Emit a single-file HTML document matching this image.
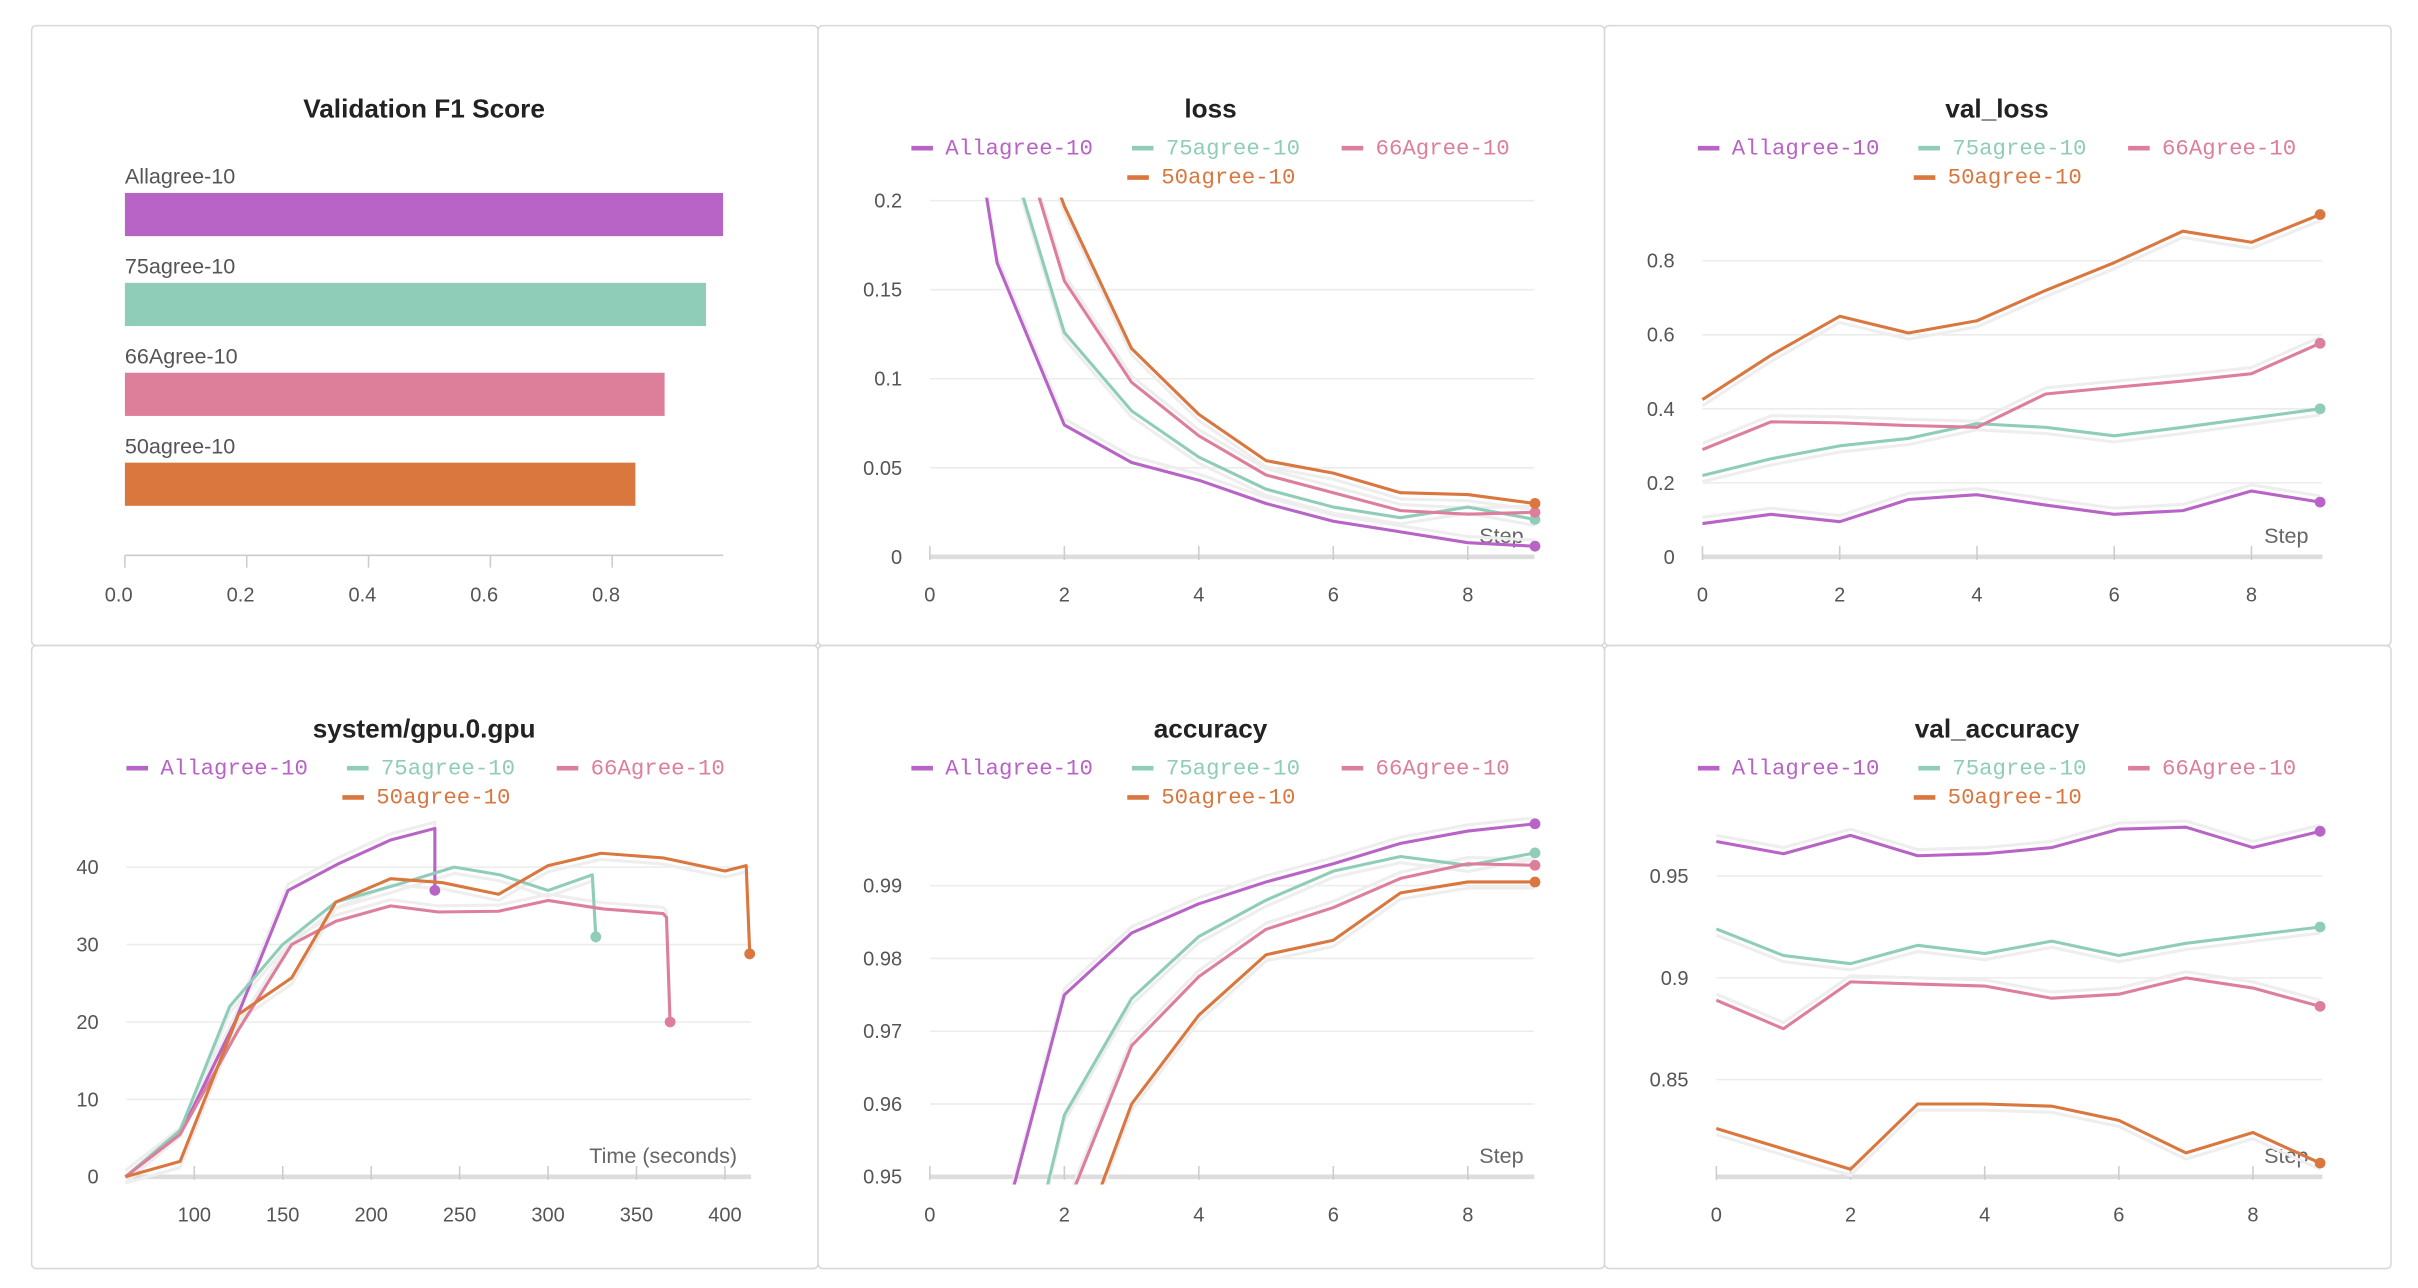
<!DOCTYPE html>
<html><head><meta charset="utf-8"><style>
html,body{margin:0;padding:0;background:#fff;width:2418px;height:1288px;overflow:hidden;}
svg{display:block;}
text{font-family:"Liberation Sans",sans-serif;}
.mono{font-family:"Liberation Mono",monospace;}
</style></head><body>
<svg id="root" width="2418" height="1288" viewBox="0 0 1568 835" xmlns="http://www.w3.org/2000/svg"></svg>
<script>
// ---- data ----
const seriesNames = ["Allagree-10","75agree-10","66Agree-10","50agree-10"];
const seriesColors = ["#b863c6","#8fcdb9","#dd7f9b","#d9773f"];
const f1Values = [0.982,0.954,0.886,0.838];
const f1Ticks = [0,0.2,0.4,0.6,0.8];
const steps = [0,1,2,3,4,5,6,7,8,9];
const lossAll = [0.4,0.165,0.074,0.053,0.043,0.030,0.020,0.014,0.008,0.006];
const loss75 = [0.5,0.25,0.126,0.082,0.056,0.038,0.028,0.022,0.028,0.021];
const loss66 = [0.5,0.28,0.155,0.098,0.068,0.046,0.036,0.026,0.024,0.025];
const loss50 = [0.6,0.30,0.197,0.117,0.080,0.054,0.047,0.036,0.035,0.030];
const lossTicks = [0,0.05,0.1,0.15,0.2];
const vlossAll = [0.09,0.115,0.095,0.155,0.168,0.14,0.115,0.125,0.178,0.148];
const vloss75 = [0.22,0.265,0.30,0.32,0.36,0.35,0.327,0.35,0.375,0.40];
const vloss66 = [0.29,0.365,0.362,0.355,0.35,0.44,0.458,0.475,0.495,0.577];
const vloss50 = [0.425,0.545,0.65,0.605,0.638,0.72,0.795,0.88,0.85,0.925];
const vlossTicks = [0,0.2,0.4,0.6,0.8];
const gpuTAll = [61,92,123,153,182,211,236,236];
const gpuVAll = [0,5.5,20,37,40.5,43.5,45,37];
const gpuT75 = [61,92,120,150,180,211,247,273,300,325,327];
const gpuV75 = [0,6,22,30,35.5,37.5,40,39,37,39,31];
const gpuT66 = [61,92,125,155,180,211,238,272,300,331,365,367,369];
const gpuV66 = [0,5.5,19,30,33,35,34.2,34.3,35.7,34.6,34,33.5,20];
const gpuT50 = [61,92,125,155,180,211,240,272,300,330,365,400,412,414];
const gpuV50 = [0,2,21,25.7,35.5,38.5,38,36.5,40.2,41.8,41.2,39.5,40.2,28.8];
const gpuXTicks = [100,150,200,250,300,350,400];
const gpuYTicks = [0,10,20,30,40];
const accAll = [0.90,0.94,0.975,0.9835,0.9875,0.9905,0.993,0.9958,0.9975,0.9985];
const acc75 = [0.90,0.92,0.9585,0.9745,0.983,0.988,0.992,0.994,0.9928,0.9945];
const acc66 = [0.90,0.92,0.945,0.968,0.9775,0.984,0.987,0.991,0.993,0.9928];
const acc50 = [0.90,0.92,0.935,0.960,0.9722,0.9805,0.9825,0.989,0.9905,0.9905];
const accTicks = [0.95,0.96,0.97,0.98,0.99];
const vaccAll = [0.967,0.961,0.970,0.960,0.961,0.964,0.973,0.974,0.964,0.972];
const vacc75 = [0.924,0.911,0.907,0.916,0.912,0.918,0.911,0.917,0.921,0.925];
const vacc66 = [0.889,0.875,0.898,0.897,0.896,0.890,0.892,0.900,0.895,0.886];
const vacc50 = [0.826,0.816,0.806,0.838,0.838,0.837,0.830,0.814,0.824,0.809];
const vaccTicks = [0.85,0.9,0.95];
const stepTicks = [0,2,4,6,8];

const NS="http://www.w3.org/2000/svg";
const root=document.getElementById('root');
function mk(tag,attrs,parent){const e=document.createElementNS(NS,tag);for(const k in attrs)e.setAttribute(k,attrs[k]);(parent||root).appendChild(e);return e;}
function txt(s,attrs,parent){const e=mk('text',attrs,parent);e.textContent=s;return e;}
let clipId=0;

const panels=[[20,16,510,402],[530,16,510,402],[1040,16,510,402],[20,418,510,404],[530,418,510,404],[1040,418,510,404]];
const pnames=["f1-panel","loss-panel","val-loss-panel","gpu-panel","accuracy-panel","val-accuracy-panel"];
panels.forEach((p,i)=>{const r=mk('rect',{x:p[0]+0.5,y:p[1]+0.5,width:p[2],height:p[3],rx:3,fill:"#fff",stroke:"#d8d8d8"});

});

function title(s,cx,y,name){const t=txt(s,{x:cx,y:y,'text-anchor':'middle','font-size':17,'font-weight':'bold',fill:'#222'});

}

function legend(x0,y0,name){
  const g=mk('g',{});
  
  
  const pos=[[x0,y0],[x0+143,y0],[x0+279,y0],[x0+140,y0+19]];
  seriesNames.forEach((s,i)=>{
    const e=mk('g',{},g);
    
    
    mk('line',{x1:pos[i][0],x2:pos[i][0]+14,y1:pos[i][1]-4,y2:pos[i][1]-4,stroke:seriesColors[i],'stroke-width':3},e);
    txt(s,{x:pos[i][0]+22,y:pos[i][1],'font-size':14.5,fill:seriesColors[i],class:'mono'},e);
  });
}

function lineChart(o){
  const g=mk('g',{});
  
  
  const X=v=>o.x0+(v-o.xv0)*o.xs, Y=v=>o.y0-(v-o.yv0)*o.ys;
  o.yTicks.forEach(t=>{const y=Y(t);
    if(t!==o.yv0||!o.noBaseGrid) mk('line',{x1:o.px0,x2:o.px1,y1:y,y2:y,stroke:'#ececec'},g);
    const l=txt(String(t),{x:o.px0-18,y:y+4.5,'text-anchor':'end','font-size':13,fill:'#555'},g);
    
    
  });
  mk('line',{x1:o.px0,x2:o.px1,y1:o.axisY,y2:o.axisY,stroke:'#ddd','stroke-width':3},g);
  o.xTicks.forEach(t=>{const x=X(t);
    mk('line',{x1:x,x2:x,y1:o.axisY-7,y2:o.axisY+2,stroke:'#ccc'},g);
    const l=txt(String(t),{x:x,y:o.axisY+29,'text-anchor':'middle','font-size':13,fill:'#555'},g);
    
    
  });
  const xl=txt(o.xlabel,{x:o.xlabelX,y:o.axisY-9,'text-anchor':'end','font-size':14,fill:'#666'},g);
  
  
  const id='c'+(clipId++);
  const cp=mk('clipPath',{id:id},g);
  mk('rect',{x:o.px0-5,y:o.clipTop,width:o.px1-o.px0+15,height:o.axisY-o.clipTop+5},cp);
  const cg=mk('g',{'clip-path':'url(#'+id+')'},g);
  o.series.forEach((s,i)=>{
    const xs=s.x, ys=s.y;
    const d=xs.map((xv,k)=>(k?'L':'M')+X(xv).toFixed(1)+','+Y(ys[k]).toFixed(1)).join(' ');
    const gh=mk('path',{d:d,fill:'none',stroke:'#eee','stroke-width':2,transform:'translate(0,'+(i%2?4:-4)+')'},cg);
    
    
  });
  o.series.forEach((s,i)=>{
    const xs=s.x, ys=s.y;
    const d=xs.map((xv,k)=>(k?'L':'M')+X(xv).toFixed(1)+','+Y(ys[k]).toFixed(1)).join(' ');
    const p=mk('path',{d:d,fill:'none',stroke:seriesColors[i],'stroke-width':2,'stroke-linejoin':'round'},cg);
    
    
    const n=xs.length-1;
    const c=mk('circle',{cx:X(xs[n]),cy:Y(ys[n]),r:3.5,fill:seriesColors[i]},g);
    
    
  });
}

title("Validation F1 Score",275,76,'f1-title');
(function(){
  const x0=81, sc=395;
  const g=mk('g',{});
  
  
  f1Values.forEach((v,i)=>{
    const y=125+i*58.3;
    const l=txt(seriesNames[i],{x:x0,y:y-6,'font-size':14,fill:'#555'},g);
    
    
    const r=mk('rect',{x:x0,y:y,width:v*sc,height:28,fill:seriesColors[i]},g);
    
    
  });
  mk('line',{x1:x0,x2:469,y1:360,y2:360,stroke:'#ccc'},g);
  f1Ticks.forEach(t=>{const x=x0+t*sc;
    mk('line',{x1:x,x2:x,y1:360,y2:368,stroke:'#ccc'},g);
    const l=txt(t.toFixed(1),{x:x-4,y:390,'text-anchor':'middle','font-size':13,fill:'#555'},g);
    
    
  });
})();

title("loss",785,76,'loss-title'); legend(591,100,'loss-legend');
lineChart({name:'loss-chart',x0:603,xv0:0,xs:43.6,y0:361,yv0:0,ys:1155,px0:603,px1:995,axisY:361,clipTop:128,
  yTicks:lossTicks,xTicks:stepTicks,xlabel:'Step',xlabelX:988,noBaseGrid:true,
  series:[{x:steps,y:lossAll},{x:steps,y:loss75},{x:steps,y:loss66},{x:steps,y:loss50}]});

title("val_loss",1295,76,'val-loss-title'); legend(1101,100,'val-loss-legend');
lineChart({name:'val-loss-chart',x0:1104,xv0:0,xs:44.5,y0:361,yv0:0,ys:240,px0:1104,px1:1506,axisY:361,clipTop:130,
  yTicks:vlossTicks,xTicks:stepTicks,xlabel:'Step',xlabelX:1497,noBaseGrid:true,
  series:[{x:steps,y:vlossAll},{x:steps,y:vloss75},{x:steps,y:vloss66},{x:steps,y:vloss50}]});

title("system/gpu.0.gpu",275,478,'gpu-title'); legend(82,502,'gpu-legend');
lineChart({name:'gpu-chart',x0:126,xv0:100,xs:1.147,y0:763,yv0:0,ys:5.02,px0:82,px1:487,axisY:763,clipTop:525,
  yTicks:gpuYTicks,xTicks:gpuXTicks,xlabel:'Time (seconds)',xlabelX:478,noBaseGrid:true,
  series:[{x:gpuTAll,y:gpuVAll},{x:gpuT75,y:gpuV75},{x:gpuT66,y:gpuV66},{x:gpuT50,y:gpuV50}]});

title("accuracy",785,478,'accuracy-title'); legend(591,502,'accuracy-legend');
lineChart({name:'accuracy-chart',x0:603,xv0:0,xs:43.6,y0:763,yv0:0.95,ys:4720,px0:603,px1:995,axisY:763,clipTop:530,
  yTicks:accTicks,xTicks:stepTicks,xlabel:'Step',xlabelX:988,noBaseGrid:true,
  series:[{x:steps,y:accAll},{x:steps,y:acc75},{x:steps,y:acc66},{x:steps,y:acc50}]});

title("val_accuracy",1295,478,'val-accuracy-title'); legend(1101,502,'val-accuracy-legend');
lineChart({name:'val-accuracy-chart',x0:1113,xv0:0,xs:43.5,y0:700,yv0:0.85,ys:1320,px0:1113,px1:1506,axisY:763,clipTop:530,
  yTicks:vaccTicks,xTicks:stepTicks,xlabel:'Step',xlabelX:1497,noBaseGrid:false,
  series:[{x:steps,y:vaccAll},{x:steps,y:vacc75},{x:steps,y:vacc66},{x:steps,y:vacc50}]});
</script>
</body></html>
